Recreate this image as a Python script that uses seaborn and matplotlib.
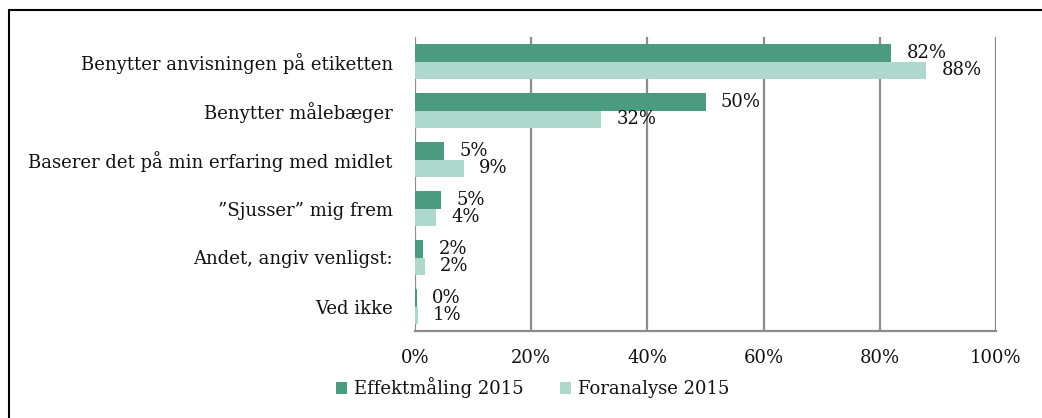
import matplotlib
matplotlib.use("Agg")
import matplotlib.pyplot as plt
import seaborn as sns
import pandas as pd
from matplotlib.lines import Line2D
from matplotlib.patches import Patch

categories = [
    "Benytter anvisningen på etiketten",
    "Benytter målebæger",
    "Baserer det på min erfaring med midlet",
    "\u201dSjusser\u201d mig frem",
    "Andet, angiv venligst:",
    "Ved ikke",
]
series_names = ["Effektmåling 2015", "Foranalyse 2015"]
effekt_values = [0.82, 0.50, 0.05, 0.045, 0.014, 0.003]
foran_values = [0.88, 0.32, 0.084, 0.036, 0.017, 0.005]
effekt_labels = ["82%", "50%", "5%", "5%", "2%", "0%"]
foran_labels = ["88%", "32%", "9%", "4%", "2%", "1%"]
x_ticks = [0, 0.2, 0.4, 0.6, 0.8, 1.0]
x_ticklabels = ["0%", "20%", "40%", "60%", "80%", "100%"]

colors = ["#4a9b80", "#add8cb"]

df = pd.DataFrame({
    "category": categories * 2,
    "series": [series_names[0]] * len(categories) + [series_names[1]] * len(categories),
    "value": effekt_values + foran_values,
})

sns.set_theme(style="white")
plt.rcParams["font.family"] = ["DejaVu Serif"]
plt.rcParams["text.color"] = "#111111"
plt.rcParams["xtick.color"] = "#111111"
plt.rcParams["ytick.color"] = "#111111"

FS = 13

fig = plt.figure(figsize=(10.42, 4.18), dpi=100)
ax = fig.add_axes([415 / 1042, 1 - 331 / 418, (996 - 415) / 1042, (331 - 37) / 418])

sns.barplot(data=df, y="category", x="value", hue="series", order=categories,
            hue_order=series_names, palette=colors, width=0.7, orient="h",
            ax=ax, legend=False, saturation=1, linewidth=0, edgecolor="none")

ax.set_xlim(0, 1.0)
ax.set_ylim(len(categories) - 0.5, -0.5)
ax.set_xticks(x_ticks)
ax.set_xticklabels(x_ticklabels, fontsize=FS)
ax.tick_params(axis="x", length=0, pad=13, labelcolor="#111111")
ax.tick_params(axis="y", length=0, pad=16, labelsize=FS, labelcolor="#111111")
ax.set_xlabel("")
ax.set_ylabel("")
ax.grid(False)
for t in x_ticks:
    ax.axvline(t, color="#8c8c8c", lw=1.6, zorder=0)
for s in ["top", "right", "left"]:
    ax.spines[s].set_visible(False)
ax.spines["bottom"].set_color("#8c8c8c")
ax.spines["bottom"].set_linewidth(1.6)

labels_all = [effekt_labels, foran_labels]
for ci, cont in enumerate(ax.containers):
    ax.bar_label(cont, labels=labels_all[ci], padding=11, fontsize=FS, color="#111111")

handles = [Patch(facecolor=c, edgecolor="none") for c in colors]
fig.legend(handles, series_names, loc="center", bbox_to_anchor=(533 / 1042, 1 - 388 / 418),
           ncol=2, frameon=False, fontsize=FS, handlelength=0.6, handleheight=0.6,
           handletextpad=0.4, columnspacing=2.0, labelcolor="#111111")

# outer frame (top and left edges)
fig.add_artist(Line2D([8.5 / 1042, 1.0], [1 - 9.5 / 418] * 2, color="black", lw=1.5,
                      transform=fig.transFigure))
fig.add_artist(Line2D([8.5 / 1042] * 2, [0, 1 - 9.5 / 418], color="black", lw=1.5,
                      transform=fig.transFigure))

fig.savefig("out.png", dpi=100)
